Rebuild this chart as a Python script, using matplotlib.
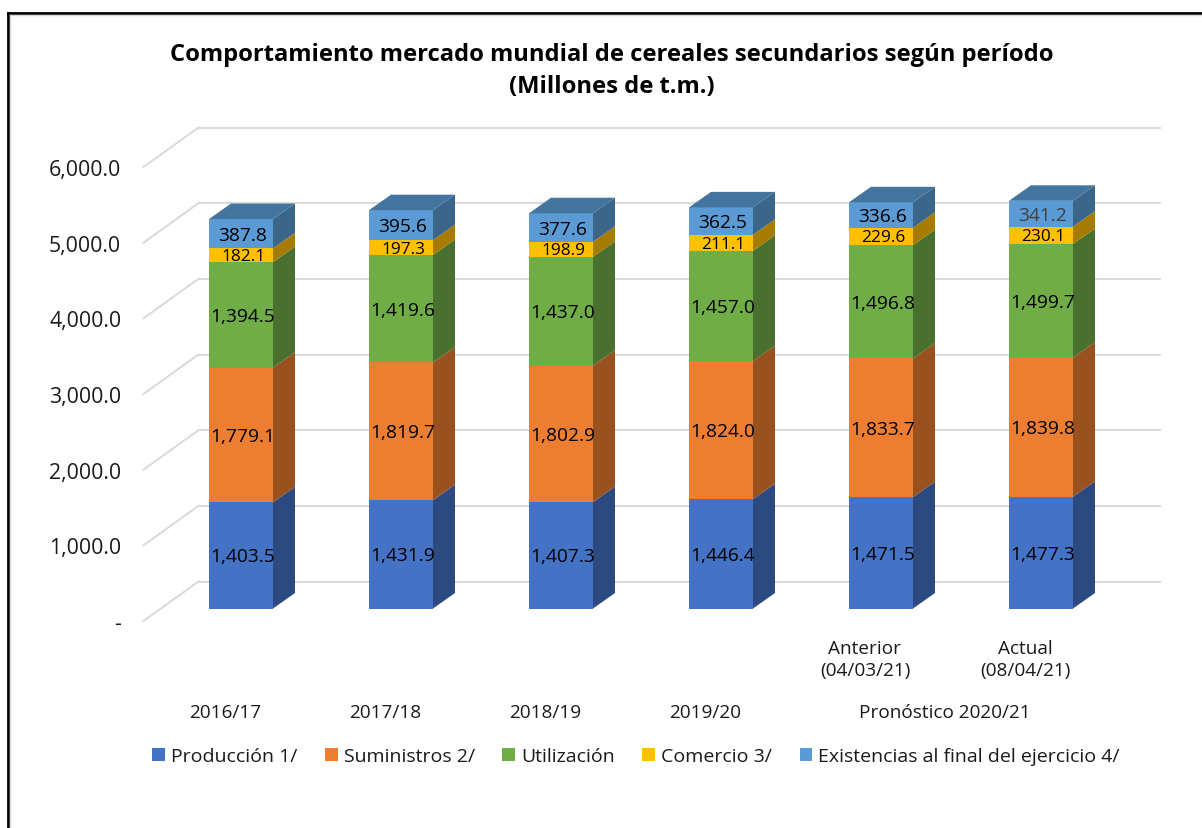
import numpy as np
import matplotlib
matplotlib.use("Agg")
import matplotlib.pyplot as plt
from matplotlib.lines import Line2D
from matplotlib.patches import Patch, Polygon

plt.rcParams['font.family'] = ['Open Sans', 'DejaVu Sans']

# Values
periods = ["2016/17", "2017/18", "2018/19", "2019/20", "Anterior", "Actual"]
produccion = [1403.5, 1431.9, 1407.3, 1446.4, 1471.5, 1477.3]
suministros = [1779.1, 1819.7, 1802.9, 1824.0, 1833.7, 1839.8]
utilizacion = [1394.5, 1419.6, 1437.0, 1457.0, 1496.8, 1499.7]
comercio = [182.1, 197.3, 198.9, 211.1, 229.6, 230.1]
existencias = [387.8, 395.6, 377.6, 362.5, 336.6, 341.2]

series_names = ["Producción 1/", "Suministros 2/", "Utilización", "Comercio 3/",
                "Existencias al final del ejercicio 4/"]
series_values = [produccion, suministros, utilizacion, comercio, existencias]
front_colors = ["#4472C4", "#ED7D31", "#70AD47", "#FFC000", "#5B9BD5"]
side_colors = ["#2C4A80", "#99511F", "#49702E", "#A67C00", "#3B6589"]
top_color = "#44759F"
label_sizes = [13.8, 13.8, 13.8, 12.4, 13.8]

yticks = [0, 1000, 2000, 3000, 4000, 5000, 6000]
ytick_labels = ["-", "1,000.0", "2,000.0", "3,000.0", "4,000.0", "5,000.0", "6,000.0"]

W, H = 1202, 829
fig = plt.figure(figsize=(W / 100, H / 100), dpi=100)

# Axes span the front edge of the 3D floor, y=0 on the pixel row of the "-" tick
left, right, bottom, top = 143.5, 1105, 622, 168
ax = fig.add_axes([left / W, 1 - bottom / H, (right - left) / W, (bottom - top) / H])
px_x = 160.0   # pixels per category
px_y = (bottom - top) / 6000.0   # pixels per unit
ax.set_xlim((left - 241) / px_x, (right - 241) / px_x)
ax.set_ylim(0, 6000)

lift = 12.5 / px_y        # bars stand this far behind the front edge
depth_x = 22 / px_x       # bar depth
depth_y = 15.5 / px_y
wall_x = 55 / px_x        # back wall offset
wall_y = 39.5 / px_y
bar_w = 64 / px_x

# Back wall gridlines and the diagonals on the side wall
for t in yticks:
    ax.plot([ax.get_xlim()[0], ax.get_xlim()[0] + wall_x], [t, t + wall_y],
            color="#D9D9D9", lw=1.4, clip_on=False, zorder=1)
    ax.plot([ax.get_xlim()[0] + wall_x, ax.get_xlim()[1] + wall_x], [t + wall_y, t + wall_y],
            color="#D9D9D9", lw=1.4, clip_on=False, zorder=1)

x = np.arange(len(periods))
base = np.full(len(periods), lift)
for vals, name, fc, sc, fs in zip(series_values, series_names, front_colors, side_colors, label_sizes):
    vals = np.array(vals)
    ax.bar(x, vals, bar_w, bottom=base, color=fc, zorder=3, clip_on=False, label=name)
    for i in x:
        xr = i + bar_w / 2
        ax.add_patch(Polygon([(xr, base[i]), (xr + depth_x, base[i] + depth_y),
                              (xr + depth_x, base[i] + vals[i] + depth_y), (xr, base[i] + vals[i])],
                             facecolor=sc, edgecolor="none", zorder=3, clip_on=False))
        txt_color = "#404040" if (name.startswith("Exist") and i == 5) else "black"
        ax.text(i + 2 / px_x, base[i] + vals[i] / 2 - 1 / px_y, f"{vals[i]:,.1f}", ha="center", va="center",
                fontsize=fs, color=txt_color, zorder=5, clip_on=False)
    base = base + vals

# Lid of each bar
for i in x:
    xl, xr = i - bar_w / 2, i + bar_w / 2
    ax.add_patch(Polygon([(xl, base[i]), (xr, base[i]), (xr + depth_x, base[i] + depth_y),
                          (xl + depth_x, base[i] + depth_y)],
                         facecolor=top_color, edgecolor="none", zorder=3, clip_on=False))

ax.set_yticks(yticks)
ax.set_yticklabels(ytick_labels, fontsize=15.3, color="#1a1a1a", va="center_baseline")
ax.tick_params(axis="y", length=0, pad=16)
ax.set_xticks([])
for s in ax.spines.values():
    s.set_visible(False)
ax.patch.set_alpha(0)

# Two level category labels sit a bit left of the bars
lab_off = -16 / px_x
lab_y1 = (bottom - 713) / px_y
for i in range(4):
    ax.text(i + lab_off, lab_y1, periods[i], ha="center", va="center", fontsize=13.7,
            color="#1a1a1a", clip_on=False)
ax.text(4 + lab_off, (bottom - 660) / px_y, "Anterior\n(04/03/21)", ha="center", va="center",
        fontsize=13.7, color="#1a1a1a", clip_on=False, linespacing=1.3)
ax.text(5 + lab_off, (bottom - 660) / px_y, "Actual\n(08/04/21)", ha="center", va="center",
        fontsize=13.7, color="#1a1a1a", clip_on=False, linespacing=1.3)
ax.text(4.5 + lab_off, lab_y1, "Pronóstico 2020/21", ha="center", va="center", fontsize=13.7,
        color="#1a1a1a", clip_on=False)

# Legend
handles = [Patch(facecolor=c, label=n) for c, n in zip(front_colors, series_names)]
fig.legend(handles=handles, loc="center", bbox_to_anchor=(636 / W, 1 - 757 / H), ncol=5,
           frameon=False, fontsize=14, handlelength=0.65, handleheight=0.65,
           handletextpad=0.3, columnspacing=1.43, labelcolor="#1a1a1a")

# Title
fig.text(612 / W, 1 - 71 / H, "Comportamiento mercado mundial de cereales secundarios según período\n(Millones de t.m.)",
         ha="center", va="center", fontsize=17.1, fontweight="bold", linespacing=1.42, color="black")

# Picture frame, only top and left show
fig.add_artist(Line2D([8 / W, 8 / W], [0, 1 - 13.5 / H], color="black", lw=2, transform=fig.transFigure))
fig.add_artist(Line2D([8 / W, 1], [1 - 13.5 / H, 1 - 13.5 / H], color="black", lw=2, transform=fig.transFigure))
fig.add_artist(Line2D([10.5 / W, 10.5 / W], [0, 1 - 16 / H], color="#D9D9D9", lw=1, transform=fig.transFigure))
fig.add_artist(Line2D([10.5 / W, 1], [1 - 16 / H, 1 - 16 / H], color="#D9D9D9", lw=1, transform=fig.transFigure))

fig.savefig("out.png", dpi=100)
